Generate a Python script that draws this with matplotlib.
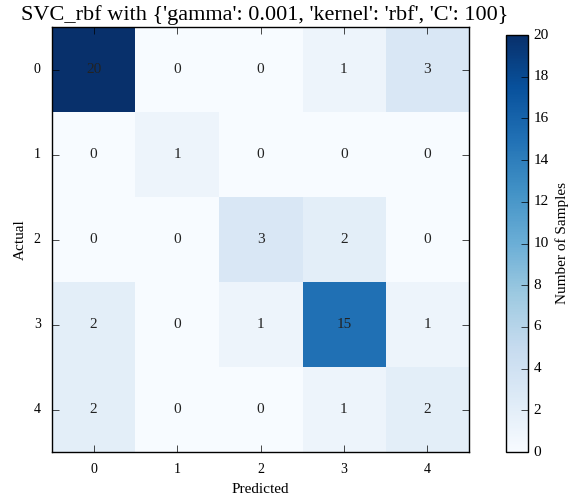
import numpy as np
import matplotlib
matplotlib.use('Agg')
import matplotlib.pyplot as plt

# confusion matrix values (rows = actual, columns = predicted)
labels = [0, 1, 2, 3, 4]
row0 = [20, 0, 0, 1, 3]
row1 = [0, 1, 0, 0, 0]
row2 = [0, 0, 3, 2, 0]
row3 = [2, 0, 1, 15, 1]
row4 = [2, 0, 0, 1, 2]
cm = np.array([row0, row1, row2, row3, row4])

title = "SVC_rbf with {'gamma': 0.001, 'kernel': 'rbf', 'C': 100}"

plt.style.use('classic')
plt.rcParams['font.family'] = ['Liberation Serif', 'DejaVu Serif']

fig = plt.figure(figsize=(5.77, 5.0), dpi=100)
fig.patch.set_facecolor('white')
ax = fig.add_axes([0.09, 0.096, 0.723, 0.85])
cax = fig.add_axes([0.877, 0.096, 0.038, 0.834])

im = ax.imshow(cm, cmap='Blues', interpolation='nearest', vmin=0, vmax=20, aspect='auto')

for i in range(cm.shape[0]):
    for j in range(cm.shape[1]):
        ax.text(j, i, str(cm[i, j]), ha='center', va='center', fontsize=11, color='#222222')

ax.set_xticks(range(len(labels)))
ax.set_yticks(range(len(labels)))
ax.set_xticklabels(labels, fontsize=10)
ax.set_yticklabels(labels, fontsize=10)
ax.set_xlabel('Predicted', fontsize=11)
ax.set_ylabel('Actual', fontsize=11)
ax.set_title(title, fontsize=16, x=0.51)
ax.tick_params(direction='in', length=5, top=True, right=True, pad=8)

cb = fig.colorbar(im, cax=cax, ticks=range(0, 21, 2))
cb.set_label('Number of Samples', fontsize=11)
cb.ax.tick_params(labelsize=11, direction='in', length=5)

fig.savefig('out.png', dpi=100, facecolor='white')
